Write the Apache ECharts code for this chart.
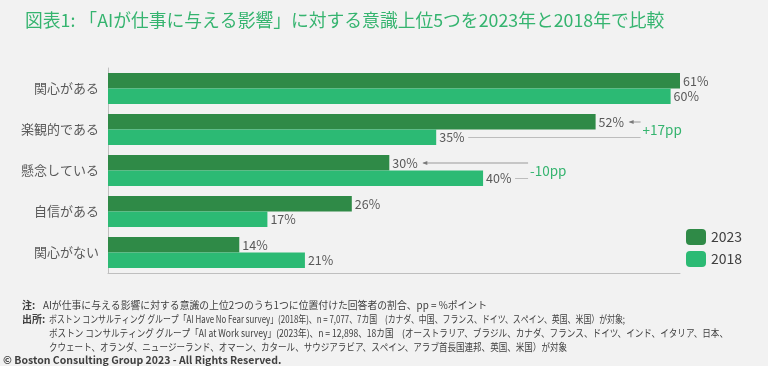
<!DOCTYPE html>
<html><head><meta charset="utf-8">
<script src="https://cdn.jsdelivr.net/npm/echarts@6/dist/echarts.min.js"></script>
<style>html,body{margin:0;padding:0;background:#f2f2f2;}#c{width:768px;height:366px;}</style>
</head><body><div id="c"></div>
<script>
const categories = ['関心がある', '楽観的である', '懸念している', '自信がある', '関心がない'];
const values2023 = [61, 52, 30, 26, 14];
const values2018 = [60, 35, 40, 17, 21];
const seriesNames = ['2023', '2018'];
const annotations = [
  { category: '楽観的である', text: '+17pp' },
  { category: '懸念している', text: '-10pp' }
];
const titleText = '図表1: 「AIが仕事に与える影響」に対する意識上位5つを2023年と2018年で比較';
const noteLines = [
  ['注:', 'AIが仕事に与える影響に対する意識の上位2つのうち1つに位置付けた回答者の割合、pp = %ポイント'],
  ['出所:', 'ボストン コンサルティング グループ「AI Have No Fear survey」(2018年)、n = 7,077、7カ国　(カナダ、中国、フランス、ドイツ、スペイン、英国、米国）が対象;'],
  ['', 'ボストン コンサルティング グループ「AI at Work survey」(2023年)、n = 12,898、18カ国　(オーストラリア、ブラジル、カナダ、フランス、ドイツ、インド、イタリア、日本、'],
  ['', 'クウェート、オランダ、ニュージーランド、オマーン、カタール、サウジアラビア、スペイン、アラブ首長国連邦、英国、米国）が対象']
];
const copyright = '© Boston Consulting Group 2023 - All Rights Reserved.';

const C2023 = '#2f8a47', C2018 = '#2cba74', TXT = '#595959';
const FONT = '"Noto Sans CJK JP", "Noto Sans", sans-serif';
const chart = echarts.init(document.getElementById('c'));

// footer lines: fit each to the reference's line length
const lineEnds = [487, 625, 728, 567];
const cv = document.createElement('canvas').getContext('2d');
const footer = [];
noteLines.forEach((l, i) => {
  const y = 305 + i * 14;
  const x0 = l[0] === '注:' ? 43 : 49;
  const font = '10px ' + FONT;
  cv.font = font;
  const w = cv.measureText(l[1]).width;
  const sx = (lineEnds[i] - x0) / w;
  if (l[0]) footer.push({ type: 'text', x: 22, y: y, style: { text: l[0], font: 'bold 10px ' + FONT, fill: '#404040', verticalAlign: 'middle' } });
  footer.push({ type: 'text', x: x0, y: y, scaleX: sx, style: { text: l[1], font: font, fill: '#404040', verticalAlign: 'middle' } });
});
footer.push({ type: 'text', x: 3, y: 360, style: { text: copyright, font: 'bold 10.5px ' + FONT, fill: '#404040', verticalAlign: 'middle' } });

const labelStyle = { show: true, position: 'right', distance: 3, color: TXT, fontSize: 12.5, fontFamily: FONT, formatter: '{c}%' };

chart.setOption({
  backgroundColor: '#f2f2f2',
  animation: false,
  title: { text: titleText, left: 20, top: 6, textStyle: { color: '#35b46f', fontSize: 17.8, fontWeight: 'normal', fontFamily: FONT } },
  legend: {
    orient: 'vertical', left: 686, top: 229, padding: 0, itemWidth: 20, itemHeight: 16, itemGap: 6,
    textStyle: { color: '#404040', fontSize: 14, fontFamily: FONT }, data: seriesNames
  },
  grid: { left: 108, top: 68, right: 88, bottom: 93 },
  xAxis: { type: 'value', min: 0, max: 61, axisLabel: { show: false }, splitLine: { show: false }, axisTick: { show: false },
    axisLine: { show: true, lineStyle: { color: '#bfbfbf' } } },
  yAxis: { type: 'category', inverse: true, data: categories, axisTick: { show: false },
    axisLine: { show: true, lineStyle: { color: '#bfbfbf' } },
    axisLabel: { color: TXT, fontSize: 13, fontFamily: FONT, margin: 9 } },
  series: [
    { name: seriesNames[0], type: 'bar', data: values2023, barWidth: 15.5, barGap: '0%', itemStyle: { color: C2023 }, label: labelStyle },
    { name: seriesNames[1], type: 'bar', data: values2018, barWidth: 15.5, itemStyle: { color: C2018 }, label: labelStyle }
  ],
  graphic: footer
});

// annotations positioned via the chart's own scales
const ann = [];
annotations.forEach(a => {
  const i = categories.indexOf(a.category);
  const v1 = values2023[i], v2 = values2018[i];
  const p1 = chart.convertToPixel({ gridIndex: 0 }, [v1, i]);
  const p2 = chart.convertToPixel({ gridIndex: 0 }, [v2, i]);
  const pm = chart.convertToPixel({ gridIndex: 0 }, [Math.max(v1, v2), i]);
  const y1 = p1[1] - 7.5, y2 = p2[1] + 8;
  const xr = pm[0] + 45;
  const xa = p1[0] + 34, xb = p2[0] + 32;
  ann.push({ type: 'line', shape: { x1: xr, y1: y1, x2: xa, y2: y1 }, style: { stroke: '#9a9a9a', lineWidth: 1 } });
  ann.push({ type: 'polygon', shape: { points: [[xa - 1, y1], [xa + 4, y1 - 2], [xa + 4, y1 + 2]] }, style: { fill: '#7a7a7a' } });
  ann.push({ type: 'line', shape: { x1: xb, y1: y2, x2: xr, y2: y2 }, style: { stroke: '#bdbdbd', lineWidth: 1 } });
  ann.push({ type: 'text', x: xr + 2, y: (y1 + y2) / 2, style: { text: a.text, font: '13.5px ' + FONT, fill: '#35b46f', verticalAlign: 'middle' } });
});
chart.setOption({ graphic: footer.concat(ann) });
</script>
</body></html>
